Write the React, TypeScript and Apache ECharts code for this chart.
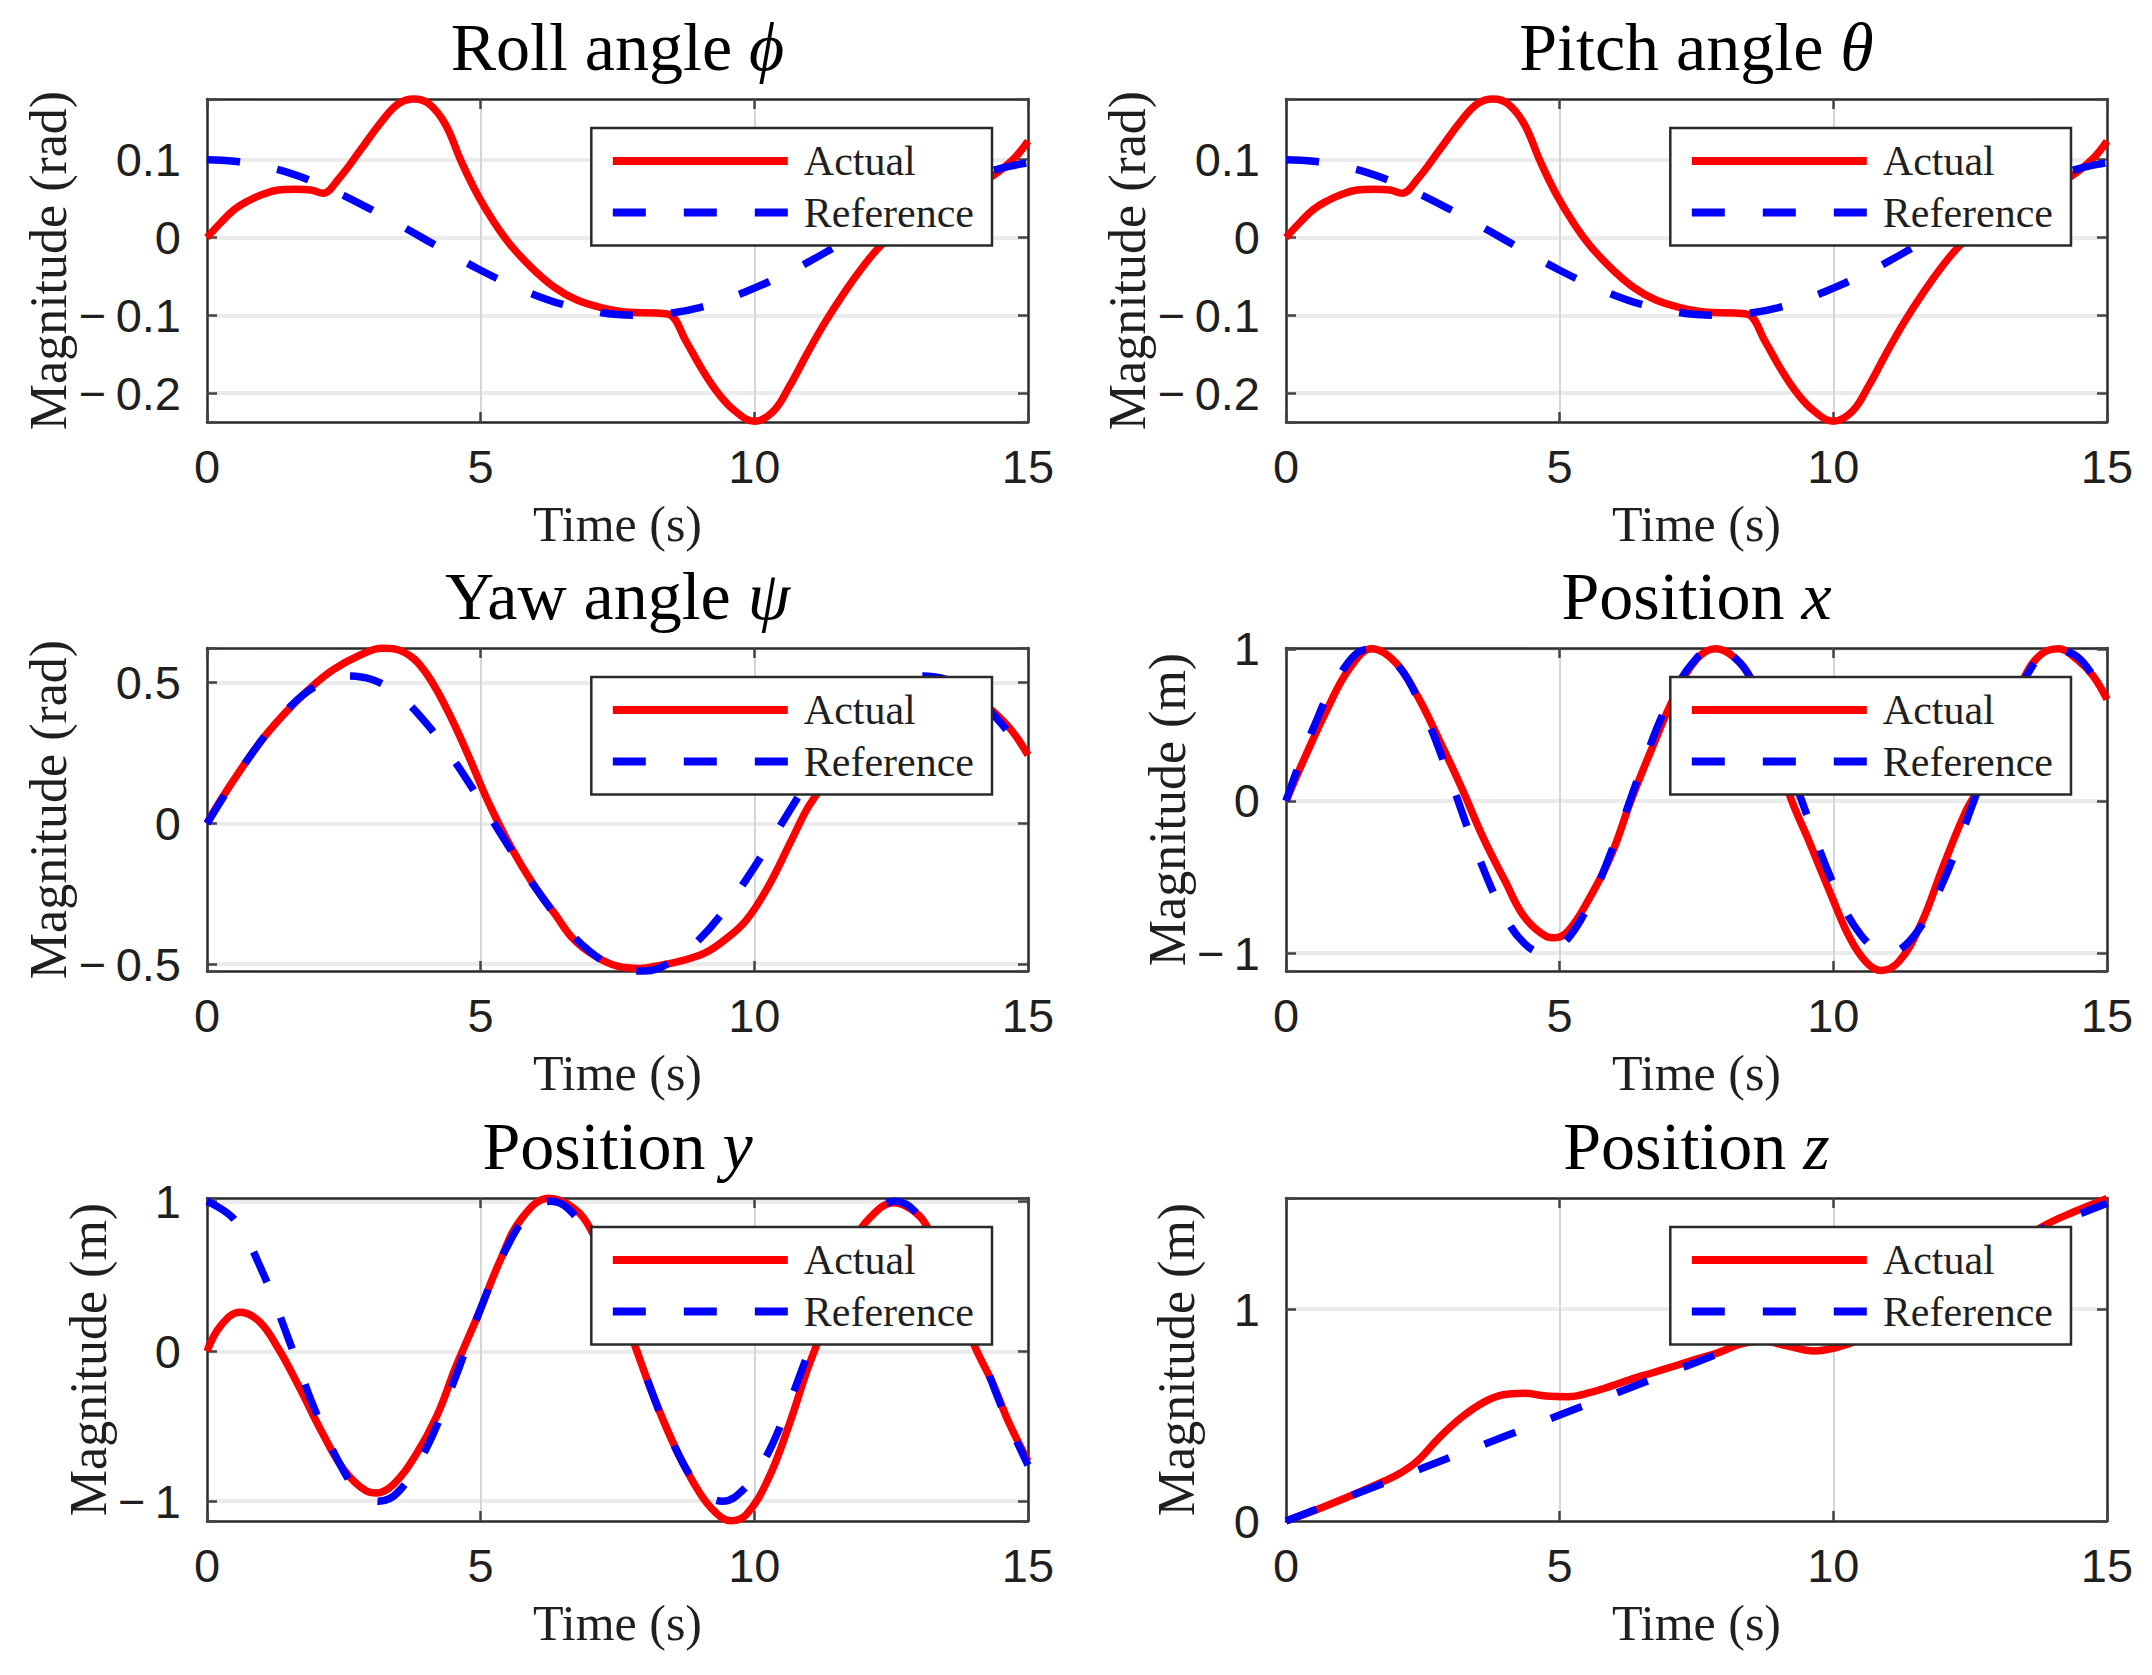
import { useEffect, useRef } from "react";
import * as echarts from "echarts";

// ---- time axis ----
const timeMin = 0;
const timeMax = 15;
const timeStep = 5;

// ---- roll angle (rad) ----
const rollActual: [number, number][] = [
  [0, 0], [0.25, 0.019], [0.5, 0.036], [0.75, 0.047], [1.0, 0.055], [1.3, 0.061],
  [1.6, 0.062], [1.9, 0.061], [2.12, 0.057], [2.4, 0.075], [2.8, 0.112], [3.2, 0.15],
  [3.5, 0.172], [3.78, 0.178], [4.05, 0.172], [4.35, 0.146], [4.65, 0.097], [4.95, 0.054],
  [5.25, 0.019], [5.55, -0.01], [5.95, -0.04], [6.35, -0.064], [6.75, -0.08], [7.2, -0.09],
  [7.7, -0.096], [8.2, -0.097], [8.45, -0.099], [8.75, -0.133], [9.05, -0.17], [9.35, -0.201],
  [9.65, -0.223], [10.0, -0.236], [10.35, -0.223], [10.65, -0.19], [10.95, -0.151],
  [11.3, -0.108], [11.65, -0.07], [12.0, -0.036], [12.3, -0.011], [12.7, 0.014],
  [13.2, 0.04], [13.7, 0.058], [14.0, 0.068], [14.35, 0.079], [14.75, 0.102], [15.0, 0.124],
];
const rollReference: [number, number][] = [
  [0, 0.1], [0.5, 0.098], [1, 0.092], [1.5, 0.083], [2, 0.07], [2.5, 0.054], [3, 0.036],
  [3.5, 0.017], [4, -0.003], [4.5, -0.023], [5, -0.042], [5.5, -0.059], [6, -0.074],
  [6.5, -0.086], [7, -0.094], [7.5, -0.099], [8, -0.1], [8.5, -0.097], [9, -0.09],
  [9.5, -0.079], [10, -0.065], [10.5, -0.049], [11, -0.031], [11.5, -0.011], [12, 0.009],
  [12.5, 0.028], [13, 0.047], [13.5, 0.064], [14, 0.078], [14.5, 0.089], [15, 0.096],
];

// ---- pitch angle (rad): same response as roll ----
const pitchActual = rollActual;
const pitchReference = rollReference;

// ---- yaw angle (rad) ----
const yawActual: [number, number][] = [
  [0, 0], [0.25, 0.083], [0.65, 0.201], [1.05, 0.308], [1.45, 0.397], [1.85, 0.474],
  [2.3, 0.545], [2.8, 0.598], [3.2, 0.622], [3.6, 0.608], [3.95, 0.548], [4.35, 0.418],
  [4.75, 0.252], [5.15, 0.071], [5.55, -0.083], [5.95, -0.213], [6.35, -0.32], [6.7, -0.412],
  [7.1, -0.472], [7.5, -0.507], [7.9, -0.515], [8.3, -0.503], [8.7, -0.486], [9.1, -0.46],
  [9.45, -0.415], [9.85, -0.344], [10.25, -0.225], [10.65, -0.071], [10.95, 0.047],
  [11.15, 0.107], [11.6, 0.245], [12.1, 0.375], [12.6, 0.47], [13.1, 0.505], [13.6, 0.5],
  [14.0, 0.455], [14.35, 0.4], [14.7, 0.33], [15, 0.243],
];
const yawReference: [number, number][] = [
  [0, 0], [0.5, 0.155], [1, 0.296], [1.5, 0.411], [2, 0.489], [2.5, 0.524], [3, 0.512],
  [3.5, 0.455], [4, 0.357], [4.5, 0.228], [5, 0.078], [5.5, -0.078], [6, -0.228],
  [6.5, -0.357], [7, -0.455], [7.5, -0.512], [8, -0.524], [8.5, -0.489], [9, -0.411],
  [9.5, -0.296], [10, -0.155], [10.5, 0], [11, 0.155], [11.5, 0.296], [12, 0.411],
  [12.5, 0.489], [13, 0.524], [13.5, 0.512], [14, 0.455], [14.5, 0.357], [15, 0.228],
];

// ---- position x (m) ----
const posXActual: [number, number][] = [
  [0, 0], [0.35, 0.29], [0.75, 0.6], [1.15, 0.865], [1.57, 1.0], [2.0, 0.91], [2.4, 0.69],
  [2.8, 0.4], [3.2, 0.093], [3.6, -0.24], [4.0, -0.525], [4.35, -0.76], [4.75, -0.89],
  [4.9, -0.9], [5.15, -0.857], [5.55, -0.636], [5.95, -0.349], [6.3, 0.0], [6.7, 0.358],
  [7.1, 0.689], [7.5, 0.93], [7.85, 1.0], [8.2, 0.94], [8.5, 0.8], [8.8, 0.52], [9.2, 0.04],
  [9.55, -0.26], [9.95, -0.61], [10.3, -0.9], [10.6, -1.06], [10.87, -1.115], [11.2, -1.055],
  [11.6, -0.81], [12.0, -0.437], [12.4, -0.084], [12.7, 0.115], [13.1, 0.48], [13.5, 0.82],
  [13.8, 0.965], [14.12, 1.0], [14.45, 0.93], [14.75, 0.82], [15, 0.667],
];
const posXReference: [number, number][] = [
  [0, 0], [0.5, 0.479], [1, 0.841], [1.5, 0.997], [2, 0.909], [2.5, 0.598], [3, 0.141],
  [3.5, -0.351], [4, -0.757], [4.35, -0.935], [4.71, -1.0], [5.05, -0.945], [5.5, -0.706],
  [6, -0.279], [6.5, 0.215], [7, 0.657], [7.5, 0.938], [7.85, 1.0], [8.2, 0.941], [8.5, 0.798],
  [9, 0.412], [9.5, -0.075], [10, -0.544], [10.5, -0.88], [11, -1.0], [11.5, -0.875],
  [12, -0.537], [12.5, -0.066], [13, 0.42], [13.5, 0.804], [14, 0.991], [14.5, 0.935], [15, 0.65],
];

// ---- position y (m) ----
const posYActual: [number, number][] = [
  [0, 0], [0.25, 0.17], [0.6, 0.26], [0.95, 0.2], [1.3, 0.02], [1.7, -0.25], [2.1, -0.54],
  [2.5, -0.79], [2.9, -0.93], [3.1, -0.945], [3.4, -0.89], [3.8, -0.7], [4.2, -0.43],
  [4.55, -0.1], [4.95, 0.24], [5.35, 0.6], [5.75, 0.886], [6.25, 1.02], [6.7, 0.953],
  [7.0, 0.82], [7.25, 0.6], [7.5, 0.36], [7.8, 0.056], [8.2, -0.34], [8.6, -0.676],
  [9.0, -0.944], [9.3, -1.078], [9.57, -1.13], [9.85, -1.09], [10.25, -0.855], [10.65, -0.475],
  [10.95, -0.14], [11.15, 0.056], [11.5, 0.45], [11.8, 0.72], [12.1, 0.886], [12.55, 0.99],
  [13.0, 0.908], [13.25, 0.76], [13.5, 0.56], [13.75, 0.33], [14.0, 0.056], [14.35, -0.21],
  [14.65, -0.475], [15, -0.732],
];
const posYReference: [number, number][] = [
  [0, 1], [0.5, 0.878], [1, 0.54], [1.5, 0.071], [2, -0.416], [2.5, -0.801], [2.8, -0.942],
  [3.14, -1.0], [3.5, -0.936], [4, -0.654], [4.5, -0.211], [5, 0.284], [5.5, 0.709],
  [5.95, 0.948], [6.28, 1.0], [6.6, 0.95], [7, 0.754], [7.5, 0.347], [8, -0.146], [8.5, -0.602],
  [9, -0.911], [9.42, -1.0], [9.85, -0.905], [10.2, -0.714], [10.5, -0.476], [11, 0.004],
  [11.5, 0.483], [12, 0.844], [12.57, 1.0], [13, 0.907], [13.5, 0.595], [14, 0.137],
  [14.5, -0.355], [15, -0.76],
];

// ---- position z (m) ----
const posZActual: [number, number][] = [
  [0, 0], [0.65, 0.063], [1.25, 0.126], [1.8, 0.189], [2.1, 0.228], [2.4, 0.283], [2.8, 0.394],
  [3.2, 0.488], [3.6, 0.559], [3.95, 0.595], [4.35, 0.603], [4.75, 0.59], [5.15, 0.587],
  [5.55, 0.606], [5.95, 0.638], [6.3, 0.669], [6.7, 0.7], [7.1, 0.732], [7.5, 0.764],
  [7.9, 0.795], [8.3, 0.835], [8.7, 0.85], [9.15, 0.827], [9.65, 0.803], [10.05, 0.819],
  [10.35, 0.843], [11, 0.93], [12, 1.085], [13, 1.255], [13.85, 1.394], [14.4, 1.46], [15, 1.523],
];
const posZReference: [number, number][] = [
  [0, 0], [1, 0.1], [2, 0.2], [3, 0.3], [4, 0.4], [5, 0.5], [6, 0.6], [7, 0.7], [8, 0.8],
  [9, 0.9], [10, 1.0], [11, 1.1], [12, 1.2], [13, 1.3], [14, 1.4], [15, 1.5],
];

// ---- panel definitions ----
const panelTitles = ["Roll angle ", "Pitch angle ", "Yaw angle ", "Position ", "Position ", "Position "];
const panelSymbols = ["\u03d5", "\u03b8", "\u03c8", "x", "y", "z"];
const panelUnits = ["rad", "rad", "rad", "m", "m", "m"];
const yMins = [-0.237, -0.237, -0.524, -1.118, -1.132, 0];
const yMaxs = [0.178, 0.178, 0.623, 1.005, 1.022, 1.525];
const ySteps = [0.1, 0.1, 0.5, 1, 1, 1];
const ySplits = [4, 4, 2, 2, 2, 2];
const actualSeries = [rollActual, pitchActual, yawActual, posXActual, posYActual, posZActual];
const referenceSeries = [rollReference, pitchReference, yawReference, posXReference, posYReference, posZReference];
const legendNames = ["Actual", "Reference"];

// ---- layout (px) ----
const W = 2152;
const H = 1675;
const colLeft = [207, 1286];
const plotW = 821;
const rowTop = [99, 648, 1198];
const plotH = 323;

const SERIF = '"Liberation Serif", "DejaVu Serif", serif';
const SANS = '"Liberation Sans", "DejaVu Sans", sans-serif';
const INK = "#1f1f1f";
const AXIS = "#2a2a2a";
const RED = "#ff0000";
const BLUE = "#0000ff";
const DASH = [33, 38];
const LINE_W = 7.5;
const TICK_FONT = 47;

function tickFormatter(step: number) {
  return (v: number) => {
    const k = v / step;
    if (Math.abs(k - Math.round(k)) > 1e-6) return "";
    const r = Math.round(k) * step;
    if (Math.abs(r) < 1e-9) return "0";
    const s = String(parseFloat(Math.abs(r).toFixed(3)));
    return r < 0 ? "\u2212\u2009" + s : s;
  };
}

function buildOption() {
  const grid: any[] = [];
  const xAxis: any[] = [];
  const yAxis: any[] = [];
  const series: any[] = [];
  const title: any[] = [];
  const legend: any[] = [];

  panelTitles.forEach((name, i) => {
    const left = colLeft[i % 2];
    const top = rowTop[Math.floor(i / 2)];
    grid.push({ left, top, width: plotW, height: plotH, containLabel: false });

    const lineCommon = { show: true, onZero: false, lineStyle: { color: AXIS, width: 2.5 } };
    const tickCommon = { show: true, inside: true, length: 10, lineStyle: { color: "#444", width: 2.5 } };

    // bottom time axis
    xAxis.push({
      type: "value", gridIndex: i, position: "bottom",
      min: timeMin, max: timeMax, interval: timeStep,
      axisLine: lineCommon, axisTick: tickCommon,
      axisLabel: { margin: 21, fontFamily: SANS, fontSize: TICK_FONT, lineHeight: TICK_FONT, color: INK },
      splitLine: { show: true, showMinLine: false, showMaxLine: false, lineStyle: { color: "#d6d6d6", width: 2 } },
      name: "Time (s)", nameLocation: "middle", nameGap: 77,
      nameTextStyle: { fontFamily: SERIF, fontSize: 50, lineHeight: 50, color: INK },
    });
    // top mirror of the time axis (box edge + inward ticks)
    xAxis.push({
      type: "value", gridIndex: i, position: "top",
      min: timeMin, max: timeMax, interval: timeStep,
      axisLine: lineCommon, axisTick: tickCommon,
      axisLabel: { show: false }, splitLine: { show: false },
    });

    const fmt = tickFormatter(ySteps[i]);
    const radPanel = panelUnits[i] === "rad";
    yAxis.push({
      type: "value", gridIndex: i, position: "left",
      min: yMins[i], max: yMaxs[i], splitNumber: ySplits[i],
      axisLine: lineCommon, axisTick: tickCommon,
      axisLabel: { margin: 26, fontFamily: SANS, fontSize: TICK_FONT, lineHeight: TICK_FONT, color: INK, formatter: fmt },
      splitLine: { show: true, showMinLine: false, showMaxLine: false, lineStyle: { color: "#ebebeb", width: 4 } },
      name: `Magnitude (${panelUnits[i]})`, nameLocation: "middle", nameRotate: 90,
      nameGap: radPanel ? 125 : 84,
      nameTextStyle: { fontFamily: SERIF, fontSize: 52, lineHeight: 52, color: INK },
    });
    // right mirror of the magnitude axis
    yAxis.push({
      type: "value", gridIndex: i, position: "right",
      min: yMins[i], max: yMaxs[i], splitNumber: ySplits[i],
      axisLine: lineCommon, axisTick: tickCommon,
      axisLabel: { show: false }, splitLine: { show: false },
    });

    series.push({
      type: "line", name: legendNames[0], xAxisIndex: 2 * i, yAxisIndex: 2 * i,
      data: actualSeries[i], symbol: "none", showSymbol: false, smooth: 0.4, clip: false,
      lineStyle: { color: RED, width: LINE_W, join: "round" }, itemStyle: { color: RED }, z: 3,
    });
    series.push({
      type: "line", name: legendNames[1], xAxisIndex: 2 * i, yAxisIndex: 2 * i,
      data: referenceSeries[i], symbol: "none", showSymbol: false, smooth: 0.4, clip: false,
      lineStyle: { color: BLUE, width: LINE_W, type: DASH, cap: "butt" },
      itemStyle: { color: BLUE }, z: 4,
    });

    title.push({
      text: `${name}{m|${panelSymbols[i]}}`,
      left: left + plotW / 2, textAlign: "center", top: top - 86, padding: 0,
      textStyle: {
        fontFamily: SERIF, fontSize: 68, lineHeight: 68, fontWeight: "normal", color: "#000",
        rich: { m: { fontFamily: SERIF, fontStyle: "italic", fontSize: 68, lineHeight: 68, color: "#000" } },
      },
    });

    legend.push({
      orient: "vertical", selectedMode: false,
      right: W - (left + plotW - 36), top: top + 29,
      data: [
        { name: legendNames[0], lineStyle: { color: RED, width: 8 }, itemStyle: { opacity: 0 } },
        { name: legendNames[1], lineStyle: { color: BLUE, width: 8, type: DASH, cap: "butt" }, itemStyle: { opacity: 0 } },
      ],
      itemStyle: { opacity: 0, borderWidth: 0 },
      itemWidth: 175, itemHeight: 20, itemGap: 9.5,
      padding: [12, 18, 12, 17.5],
      backgroundColor: "#ffffff", borderColor: AXIS, borderWidth: 2.5, borderRadius: 0,
      textStyle: { fontFamily: SERIF, fontSize: 42, lineHeight: 42, color: INK, padding: [0, 0, 0, 11] },
      z: 10,
    });
  });

  return {
    animation: false,
    backgroundColor: "#ffffff",
    title, legend, grid, xAxis, yAxis, series,
  };
}

export default function App() {
  const ref = useRef<HTMLDivElement>(null);
  useEffect(() => {
    if (!ref.current) return;
    const chart = echarts.init(ref.current, undefined, { renderer: "svg", width: W, height: H });
    chart.setOption(buildOption() as any);
    return () => chart.dispose();
  }, []);
  return (
    <div
      ref={ref}
      style={{ position: "absolute", left: 0, top: 0, width: W, height: H, background: "#fff" }}
    />
  );
}
